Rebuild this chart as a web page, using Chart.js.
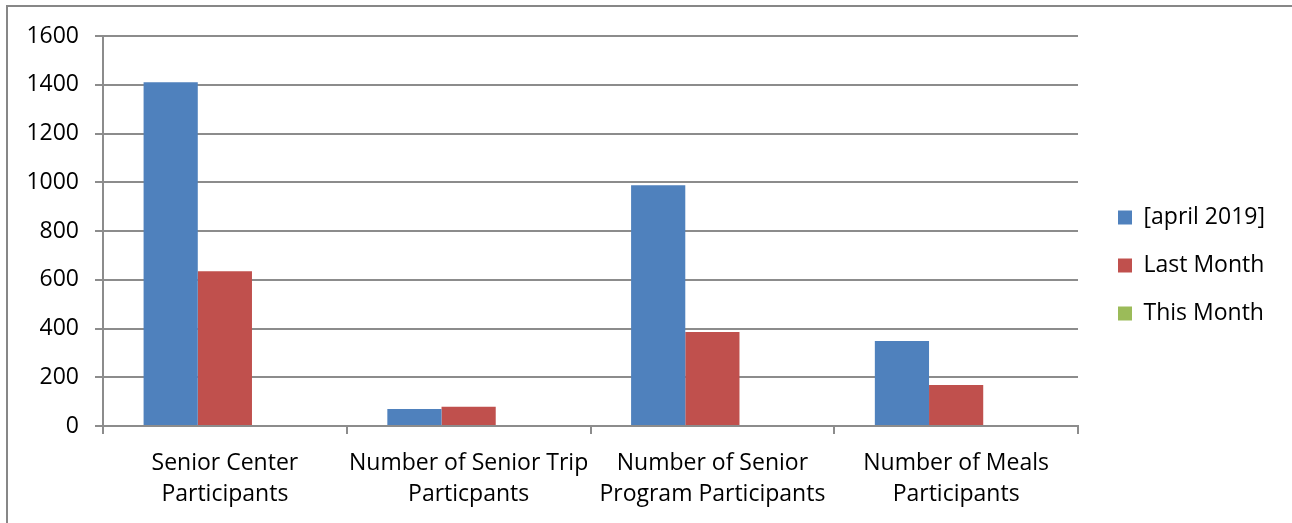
<!DOCTYPE html>
<html lang="en">
  <head>
    <meta charset="UTF-8" />
    <title>Senior Services - Monthly Participation</title>
    <style>
      html,
      body {
        margin: 0;
        padding: 0;
        background: #ffffff;
      }

      .frame {
        position: relative;
        width: 1292px;
        height: 523px;
        overflow: hidden;
      }

      .frame::before {
        content: "";
        position: absolute;
        left: 6px;
        top: 5px;
        width: 1400px;
        height: 600px;
        border-top: 2px solid #878787;
        border-left: 2px solid #878787;
        pointer-events: none;
      }

      canvas {
        display: block;
      }
    </style>
    <script src="https://cdn.jsdelivr.net/npm/chart.js"></script>
  </head>
  <body>
    <div class="frame">
      <canvas id="participationChart" width="1292" height="523"></canvas>
    </div>

    <script>
      const categories = [
        ["Senior Center", "Participants"],
        ["Number of Senior Trip", "Particpants"],
        ["Number of Senior", "Program Participants"],
        ["Number of Meals", "Participants"],
      ];
      const april2019 = [1410, 70, 988, 349];
      const lastMonth = [635, 79, 386, 168];
      const thisMonth = [null, null, null, null];
      const yTicks = [0, 200, 400, 600, 800, 1000, 1200, 1400, 1600];

      const gridColor = "#8c8c8c";
      const fontFamily = "'Open Sans', Lato, sans-serif";

      // nudge the legend a bit above the vertical centre
      const legendLift = {
        id: "legendLift",
        afterLayout(chart) {
          if (chart.legend) {
            chart.legend.top -= 14;
            chart.legend.bottom -= 14;
          }
        },
      };

      new Chart(document.getElementById("participationChart").getContext("2d"), {
        type: "bar",
        data: {
          labels: categories,
          datasets: [
            {
              label: "[april 2019]",
              data: april2019,
              backgroundColor: "#4f81bd",
            },
            {
              label: "Last Month",
              data: lastMonth,
              backgroundColor: "#c0504d",
            },
            {
              label: "This Month",
              data: thisMonth,
              backgroundColor: "#9bbb59",
            },
          ],
        },
        plugins: [legendLift],
        options: {
          responsive: false,
          animation: false,
          devicePixelRatio: 1,
          datasets: {
            bar: {
              categoryPercentage: 0.667,
              barPercentage: 1.0,
            },
          },
          layout: {
            padding: { top: 36, left: 8, right: 17, bottom: 0 },
          },
          plugins: {
            tooltip: { enabled: false },
            legend: {
              position: "right",
              labels: {
                boxWidth: 14,
                boxHeight: 14,
                padding: 25,
                color: "#000000",
                font: { family: fontFamily, size: 23 },
              },
            },
          },
          scales: {
            x: {
              grid: {
                offset: true,
                drawOnChartArea: false,
                drawTicks: true,
                tickLength: 8,
                color: gridColor,
                lineWidth: 2,
              },
              border: { color: gridColor, width: 2 },
              ticks: {
                color: "#000000",
                padding: 14,
                maxRotation: 0,
                autoSkip: false,
                font: { family: fontFamily, size: 23, lineHeight: 1.35 },
              },
              afterFit: (scale) => {
                scale.height = 97;
              },
            },
            y: {
              min: 0,
              max: 1600,
              afterBuildTicks: (scale) => {
                scale.ticks = yTicks.map((v) => ({ value: v }));
              },
              grid: {
                color: gridColor,
                lineWidth: 2,
                tickLength: 8,
              },
              border: { color: gridColor, width: 2 },
              ticks: {
                color: "#000000",
                padding: 16,
                font: { family: fontFamily, size: 23 },
                callback: (value) => String(value),
              },
              afterFit: (scale) => {
                scale.width = 95;
              },
            },
            // empty axis that only keeps a gap between the plot and the legend
            gap: {
              type: "linear",
              position: "right",
              grid: { display: false },
              border: { display: false },
              ticks: { display: false },
              afterFit: (scale) => {
                scale.width = 15;
              },
            },
          },
        },
      });
    </script>
  </body>
</html>
